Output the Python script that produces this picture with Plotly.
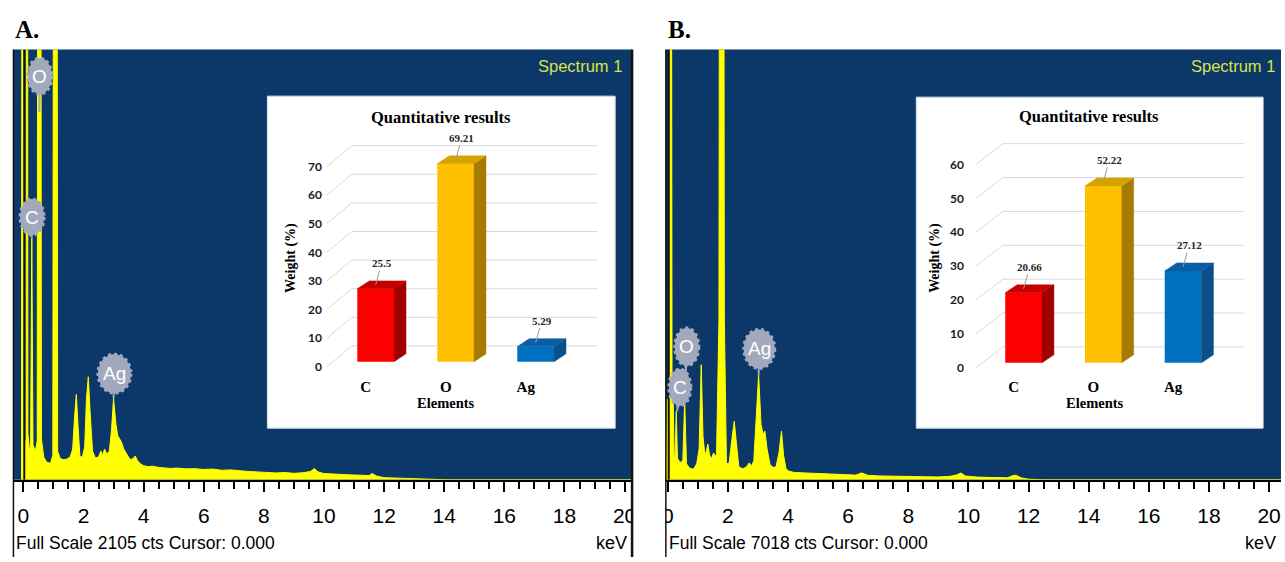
import plotly.graph_objects as go

W, H = 1285, 562

# ---------------- data ----------------
# Quantitative results, weight %
elements = ["C", "O", "Ag"]
weight_a = [25.5, 69.21, 5.29]
weight_b = [20.66, 52.22, 27.12]
weight_ticks_a = [0, 10, 20, 30, 40, 50, 60, 70]
weight_ticks_b = [0, 10, 20, 30, 40, 50, 60]

# EDS spectra: energy (keV) against counts; peaks above full scale run off the top
full_scale_a = 2105
full_scale_b = 7018

energy_a = [
    -0.06, -0.03, 0.00, 0.04, 0.09, 0.12, 0.15, 0.20, 0.24, 0.28,
    0.32, 0.40, 0.46, 0.53, 0.60, 0.68, 0.78, 0.90, 0.98, 1.06,
    1.14, 1.22, 1.32, 1.44, 1.56, 1.64, 1.70, 1.76, 1.82, 1.88,
    1.96, 2.04, 2.10, 2.16, 2.22, 2.30, 2.40, 2.50, 2.58, 2.64,
    2.70, 2.78, 2.86, 2.93, 3.00, 3.08, 3.14, 3.20, 3.26, 3.34,
    3.42, 3.50, 3.58, 3.66, 3.72, 3.80, 3.90, 4.00, 4.15, 4.30,
    4.50, 4.70, 4.90, 5.10, 5.40, 5.70, 6.00, 6.30, 6.60, 6.90,
    7.20, 7.50, 7.80, 8.10, 8.40, 8.70, 9.00, 9.30, 9.55, 9.68,
    9.80, 10.0, 10.4, 10.8, 11.2, 11.5, 11.6, 11.75, 12.0, 12.4,
    12.9, 13.4, 13.6, 14.0, 20.3,
]
counts_a = [
    0, 9000, 180, 150, 200, 9000, 230, 150, 160, 1180,
    170, 140, 190, 12000, 200, 110, 85, 80, 120, 12000,
    140, 105, 98, 100, 112, 150, 300, 417, 260, 115,
    110, 160, 400, 504, 330, 140, 105, 112, 140, 120,
    150, 125, 140, 240, 398, 270, 215, 200, 185, 150,
    128, 110, 98, 105, 116, 92, 78, 68, 64, 66,
    60, 58, 55, 57, 53, 54, 50, 52, 46, 48,
    43, 40, 38, 36, 33, 35, 31, 34, 40, 55,
    38, 30, 26, 24, 22, 20, 30, 18, 10, 8,
    6, 5, 4, 0, 0,
]

energy_b = [
    -0.05, -0.02, 0.05, 0.10, 0.14, 0.18, 0.21, 0.24, 0.28, 0.32,
    0.38, 0.44, 0.50, 0.56, 0.62, 0.72, 0.85, 0.96, 1.04, 1.11,
    1.17, 1.23, 1.28, 1.33, 1.39, 1.45, 1.52, 1.58, 1.62, 1.70,
    1.79, 1.88, 1.95, 2.04, 2.14, 2.21, 2.28, 2.36, 2.48, 2.60,
    2.71, 2.78, 2.86, 2.94, 3.02, 3.10, 3.17, 3.23, 3.30, 3.40,
    3.50, 3.60, 3.70, 3.78, 3.85, 3.93, 4.02, 4.20, 4.50, 4.80,
    5.10, 5.40, 5.70, 6.00, 6.25, 6.45, 6.65, 7.00, 7.40, 7.80,
    8.20, 8.60, 9.00, 9.40, 9.62, 9.75, 9.90, 10.3, 10.8, 11.3,
    11.5, 11.6, 11.75, 12.0, 12.5, 20.5,
]
counts_b = [
    0, 1300, 1350, 20000, 1300, 1250, 300, 420, 1116, 350,
    300, 280, 320, 1310, 260, 190, 170, 260, 500, 1876,
    700, 420, 460, 582, 400, 340, 437, 380, 420, 2600,
    40000, 2600, 260, 270, 700, 954, 600, 210, 180, 200,
    275, 220, 310, 1000, 1714, 900, 740, 792, 500, 250,
    200, 210, 450, 792, 400, 180, 140, 118, 112, 108,
    104, 100, 95, 80, 75, 110, 72, 62, 56, 52,
    50, 48, 45, 55, 80, 110, 60, 42, 36, 32,
    70, 70, 30, 8, 0, 0,
]

# Identified peaks: energy and height of each labelled line
peak_elems = ["C", "O", "Ag"]
peak_kev_a = [0.28, 0.53, 3.00]
peak_cts_a = [1180, 1800, 398]
peak_kev_b = [0.31, 0.56, 3.02]
peak_cts_b = [1116, 1310, 1714]

# ---------------- style ----------------
SANS = "Liberation Sans, Arial, sans-serif"
SERIF = "Liberation Serif, Times New Roman, serif"
NAVY = "#0b3868"
YELLOW = "#ffff00"
BADGE = "#a3a9bd"
FRONT = ["#ff0000", "#ffc000", "#0070c0"]
SIDE = ["#a00000", "#a67c00", "#0a4f88"]
TOP = ["#c40000", "#d6a200", "#0a5ea6"]

KEV_PX = 30.25           # pixels per keV on both spectra
SPEC_TOP, SPEC_BASE = 50, 484
CURSOR_KEV = 0.03

# badge placement: (keV, counts, width px, height px)
badges_a = [(0.29, 1285, 24, 36), (0.55, 1975, 24, 36), (3.03, 519, 33, 39)]
badges_b = [(0.40, 1504, 22, 37), (0.63, 2167, 24, 38), (3.04, 2134, 31, 39)]

BAR_SHIFT = (10, 5)      # px offset of bar fronts from the axis plane
BAR_W = 37               # px
BAR_DEPTH = (12, 8)      # px depth of the 3-D faces

inset_a = dict(left=325, right=600, top=135, bottom=373, cat0=364, step=80.5,
               zero=370, unit=2.886, back_dx=25, back_dy=21, back_right=597,
               box=(265, 97, 615, 432), ystand=4, xstand=6,
               title=(440, 119), weight=(288, 260), elem=(445, 407))
inset_b = dict(left=978, right=1252, top=133, bottom=373, cat0=1016, step=80.25,
               zero=371, unit=3.417, back_dx=27, back_dy=21, back_right=1248,
               box=(918, 98, 1267, 432), ystand=11, xstand=6,
               title=(1092, 118), weight=(937, 260), elem=(1098, 407))


def fx(p):
    return p / W


def fy(p):
    return 1 - p / H


fig = go.Figure()
shapes = []
annotations = []
axes = {}


def paper_text(x, y, text, font, xanchor="center", angle=0):
    annotations.append(dict(xref="paper", yref="paper", x=fx(x), y=fy(y), text=text,
                            showarrow=False, xanchor=xanchor, yanchor="middle",
                            textangle=angle, font=font))


def add_spectrum(idx, left, right, kev0, energy, counts, full, pk_kev, pk_cts, badges,
                 letter, letter_x, spec_x, scale_x, kev_x):
    sfx = "" if idx == 1 else str(idx)
    xa, ya = "x" + sfx, "y" + sfx
    axes["xaxis" + sfx] = dict(
        domain=[fx(left), fx(right)], range=[(left - kev0) / KEV_PX, (right - kev0) / KEV_PX],
        anchor=ya, tick0=0, dtick=2, ticks="outside", ticklen=10, tickwidth=1.5,
        tickcolor="black", showline=True, linecolor="black", linewidth=2,
        showgrid=False, zeroline=False, ticklabelstandoff=6,
        tickfont=dict(family=SANS, size=21, color="black"),
        minor=dict(tick0=0, dtick=0.5, ticks="outside", ticklen=7, tickwidth=1.5,
                   tickcolor="black", showgrid=False))
    axes["yaxis" + sfx] = dict(domain=[fy(SPEC_BASE), fy(SPEC_TOP)], range=[0, full],
                               anchor=xa, visible=False)
    shapes.append(dict(type="rect", xref="paper", yref="paper", layer="below",
                       x0=fx(left), x1=fx(right), y0=fy(SPEC_BASE), y1=fy(SPEC_TOP),
                       fillcolor=NAVY, line=dict(width=0)))
    fig.add_trace(go.Scatter(x=energy, y=counts, xaxis=xa, yaxis=ya, mode="lines",
                             fill="tozeroy", fillcolor=YELLOW,
                             line=dict(color=YELLOW, width=1), hoverinfo="skip"))
    shapes.append(dict(type="line", xref=xa, yref=ya, x0=CURSOR_KEV, x1=CURSOR_KEV,
                       y0=0, y1=full, layer="above", line=dict(color="#111111", width=2)))
    for elem, k, c, (bk, bc, bw, bh) in zip(peak_elems, pk_kev, pk_cts, badges):
        shapes.append(dict(type="line", xref=xa, yref=ya, x0=k, y0=min(c, full),
                           x1=bk, y1=bc, layer="above", line=dict(color=BADGE, width=2)))
        shapes.append(dict(type="circle", xref=xa, yref=ya, xsizemode="pixel",
                           ysizemode="pixel", xanchor=bk, yanchor=bc,
                           x0=-bw / 2, x1=bw / 2, y0=-bh / 2, y1=bh / 2, layer="above",
                           fillcolor=BADGE, line=dict(color=BADGE, width=3, dash="dot")))
        annotations.append(dict(xref=xa, yref=ya, x=bk, y=bc, text=elem, showarrow=False,
                                font=dict(family=SANS, size=19, color="#ffffff")))
    paper_text(letter_x, 30, "<b>%s.</b>" % letter,
               dict(family=SERIF, size=25, color="black"), xanchor="left")
    paper_text(spec_x, 67, "Spectrum 1", dict(family=SANS, size=16.5, color="#d8e24a"),
               xanchor="right")
    paper_text(scale_x, 548, "Full Scale %d cts Cursor: 0.000" % full,
               dict(family=SANS, size=17.5, color="black"), xanchor="left")
    paper_text(kev_x, 548, "keV", dict(family=SANS, size=18, color="black"),
               xanchor="right")


def add_inset(idx, cfg, values, ticks):
    sfx = str(idx)
    xa, ya = "x" + sfx, "y" + sfx
    ux, uy = 1.0 / cfg["step"], 1.0 / cfg["unit"]
    xr = [(cfg["left"] - cfg["cat0"]) * ux, (cfg["right"] - cfg["cat0"]) * ux]
    yr = [(cfg["zero"] - cfg["bottom"]) * uy, (cfg["zero"] - cfg["top"]) * uy]
    axes["xaxis" + sfx] = dict(
        domain=[fx(cfg["left"]), fx(cfg["right"])], range=xr, anchor=ya,
        tickmode="array", tickvals=list(range(len(elements))),
        ticktext=["<b>%s</b>" % e for e in elements],
        ticks="", showgrid=False, zeroline=False, showline=False,
        ticklabelstandoff=cfg["xstand"],
        tickfont=dict(family=SERIF, size=15, color="black"))
    axes["yaxis" + sfx] = dict(
        domain=[fy(cfg["bottom"]), fy(cfg["top"])], range=yr, anchor=xa,
        tickmode="array", tickvals=ticks, ticktext=["<b>%d</b>" % t for t in ticks],
        ticks="", showgrid=False, zeroline=False,
        showline=False, ticklabelstandoff=cfg["ystand"],
        tickfont=dict(family="Lato, Open Sans, sans-serif", size=12, color="#1a1a1a"))

    bx0, by0, bx1, by1 = cfg["box"]
    shapes.append(dict(type="rect", xref="paper", yref="paper", layer="below",
                       x0=fx(bx0), x1=fx(bx1), y0=fy(by1), y1=fy(by0),
                       fillcolor="#ffffff", line=dict(color="#d5dde6", width=1)))

    # back wall gridlines with the perspective edge down to each tick label
    wx = xr[0] + cfg["back_dx"] * ux
    wend = (cfg["back_right"] - cfg["cat0"]) * ux
    for v in ticks:
        vb = v + cfg["back_dy"] * uy
        for (x0, y0, x1, y1) in [(xr[0], v, wx, vb), (wx, vb, wend, vb)]:
            shapes.append(dict(type="line", xref=xa, yref=ya, layer="below",
                               x0=x0, y0=y0, x1=x1, y1=y1,
                               line=dict(color="#d9d9d9", width=1)))

    sx, sy = BAR_SHIFT[0] * ux, BAR_SHIFT[1] * uy
    bw = BAR_W * ux
    dx, dy = BAR_DEPTH[0] * ux, BAR_DEPTH[1] * uy
    xs = [i + sx for i in range(len(values))]
    fig.add_trace(go.Bar(x=xs, y=values, base=[sy] * len(values), width=bw,
                         marker=dict(color=FRONT, line=dict(width=0)),
                         xaxis=xa, yaxis=ya, hoverinfo="skip"))
    for i, v in enumerate(values):
        xl, xrt = xs[i] - bw / 2, xs[i] + bw / 2
        y0, y1 = sy, sy + v
        fig.add_trace(go.Scatter(
            x=[xrt, xrt + dx, xrt + dx, xrt, xrt], y=[y0, y0 + dy, y1 + dy, y1, y0],
            fill="toself", fillcolor=SIDE[i], mode="lines",
            line=dict(color=SIDE[i], width=0.5), xaxis=xa, yaxis=ya, hoverinfo="skip"))
        fig.add_trace(go.Scatter(
            x=[xl, xl + dx, xrt + dx, xrt, xl], y=[y1, y1 + dy, y1 + dy, y1, y1],
            fill="toself", fillcolor=TOP[i], mode="lines",
            line=dict(color=TOP[i], width=0.5), xaxis=xa, yaxis=ya, hoverinfo="skip"))
        annotations.append(dict(
            xref=xa, yref=ya, x=xs[i], y=y1 + dy / 2, text="<b>%g</b>" % v,
            showarrow=True, arrowhead=0, arrowwidth=1, arrowcolor="#9a9a9a",
            ax=6, ay=-22, font=dict(family=SERIF, size=11, color="#262626")))

    tx, ty = cfg["title"]
    paper_text(tx, ty, "<b>Quantitative results</b>", dict(family=SERIF, size=16.5, color="black"))
    wxp, wyp = cfg["weight"]
    paper_text(wxp, wyp, "<b>Weight (%)</b>", dict(family=SERIF, size=14, color="black"), angle=-90)
    ex, ey = cfg["elem"]
    paper_text(ex, ey, "<b>Elements</b>", dict(family=SERIF, size=14.5, color="black"))


add_spectrum(1, 9.5, 632, 19.5, energy_a, counts_a, full_scale_a, peak_kev_a, peak_cts_a,
             badges_a, "A", 9, 624, 10, 629)
add_inset(3, inset_a, weight_a, weight_ticks_a)
add_spectrum(2, 666, 1285, 668, energy_b, counts_b, full_scale_b, peak_kev_b, peak_cts_b,
             badges_b, "B", 666, 1281, 667, 1282)
add_inset(4, inset_b, weight_b, weight_ticks_b)

# gap between the two panels, and the panel frames
shapes.append(dict(type="rect", xref="paper", yref="paper", layer="above",
                   x0=fx(633), x1=fx(665.5), y0=0, y1=fy(SPEC_BASE - 1),
                   fillcolor="#ffffff", line=dict(width=0)))
for xline, wline in [(9.5, 1.5), (632, 2.5), (666, 1.5)]:
    shapes.append(dict(type="line", xref="paper", yref="paper", layer="above",
                       x0=fx(xline), x1=fx(xline), y0=0, y1=fy(SPEC_TOP),
                       line=dict(color="#111111", width=wline)))

fig.update_layout(
    width=W, height=H, autosize=False, margin=dict(l=0, r=0, t=0, b=0),
    paper_bgcolor="#ffffff", plot_bgcolor="rgba(0,0,0,0)", showlegend=False,
    shapes=shapes, annotations=annotations, **axes)

fig.write_html("out.html")
